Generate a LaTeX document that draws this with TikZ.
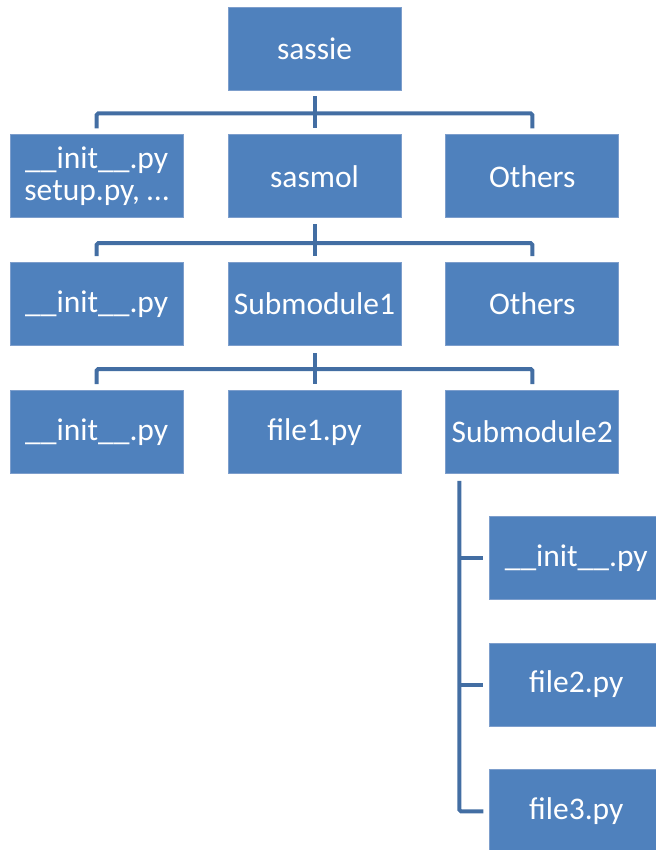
\documentclass[tikz,border=0pt]{standalone}
\usepackage{fontspec}
\setmainfont{Carlito}
\usetikzlibrary{positioning, calc}
\definecolor{boxfill}{RGB}{79,129,189}
\definecolor{boxedge}{RGB}{125,158,204}
\definecolor{linkcolor}{RGB}{67,110,163}
\tikzset{
    box/.style={
        rectangle, draw=boxedge, line width=0.8pt, fill=boxfill,
        minimum width=173pt, minimum height=83pt, inner sep=0pt,
        text=white, align=center, font=\fontsize{31.5}{32}\selectfont
    },
    link/.style={draw=linkcolor, line width=4pt},
    bus/.style={draw=linkcolor, line width=4pt, rounded corners=1.5pt}
}

\begin{document}
\begin{tikzpicture}[x=1pt, y=1pt]
    \useasboundingbox (0,0) rectangle (655,-850);

    % Root
    \node[box] (sassie) at (314.5,-48.5) {sassie};

    % Row 1
    \node[box, below=44pt of sassie] (sasmol) {sasmol};
    \node[box, left=44pt of sasmol] (setup) {\_\_init\_\_.py\\setup.py, \dots};
    \node[box, right=44pt of sasmol] (othersA) {Others};

    % Row 2
    \node[box, below=44pt of sasmol] (subA) {Submodule1};
    \node[box, left=44pt of subA] (initA) {\_\_init\_\_.py};
    \node[box, right=44pt of subA] (othersB) {Others};

    % Row 3
    \node[box, below=44pt of subA] (fileA) {file1.py};
    \node[box, left=44pt of fileA] (initB) {\_\_init\_\_.py};
    \node[box, right=44pt of fileA] (subB) {Submodule2};

    % Children of Submodule2
    \node[box, anchor=north west] (initC) at ([xshift=44pt, yshift=-42pt]subB.south west) {\_\_init\_\_.py};
    \node[box, below=43pt of initC] (fileB) {file2.py};
    \node[box, below=43pt of fileB] (fileC) {file3.py};

    % Buses
    \draw[link] ([yshift=-6pt]sassie.south) -- ([yshift=6pt]sasmol.north);
    \draw[bus] ([yshift=6pt]setup.north) |- ([yshift=-23pt]sassie.south) -| ([yshift=6pt]othersA.north);

    \draw[link] ([yshift=-6pt]sasmol.south) -- ([yshift=6pt]subA.north);
    \draw[bus] ([yshift=6pt]initA.north) |- ([yshift=-25pt]sasmol.south) -| ([yshift=6pt]othersB.north);

    \draw[link] ([yshift=-7pt]subA.south) -- ([yshift=6pt]fileA.north);
    \draw[bus] ([yshift=6pt]initB.north) |- ([yshift=-23pt]subA.south) -| ([yshift=6pt]subB.north);

    % Side bus
    \coordinate (top) at ([xshift=14pt, yshift=-7pt]subB.south west);
    \draw[bus] (top) |- ([xshift=-6pt]fileC.west);
    \foreach \n in {initC, fileB} {
        \draw[link] (top |- \n.west) -- ([xshift=-6pt]\n.west);
    }
\end{tikzpicture}
\end{document}
